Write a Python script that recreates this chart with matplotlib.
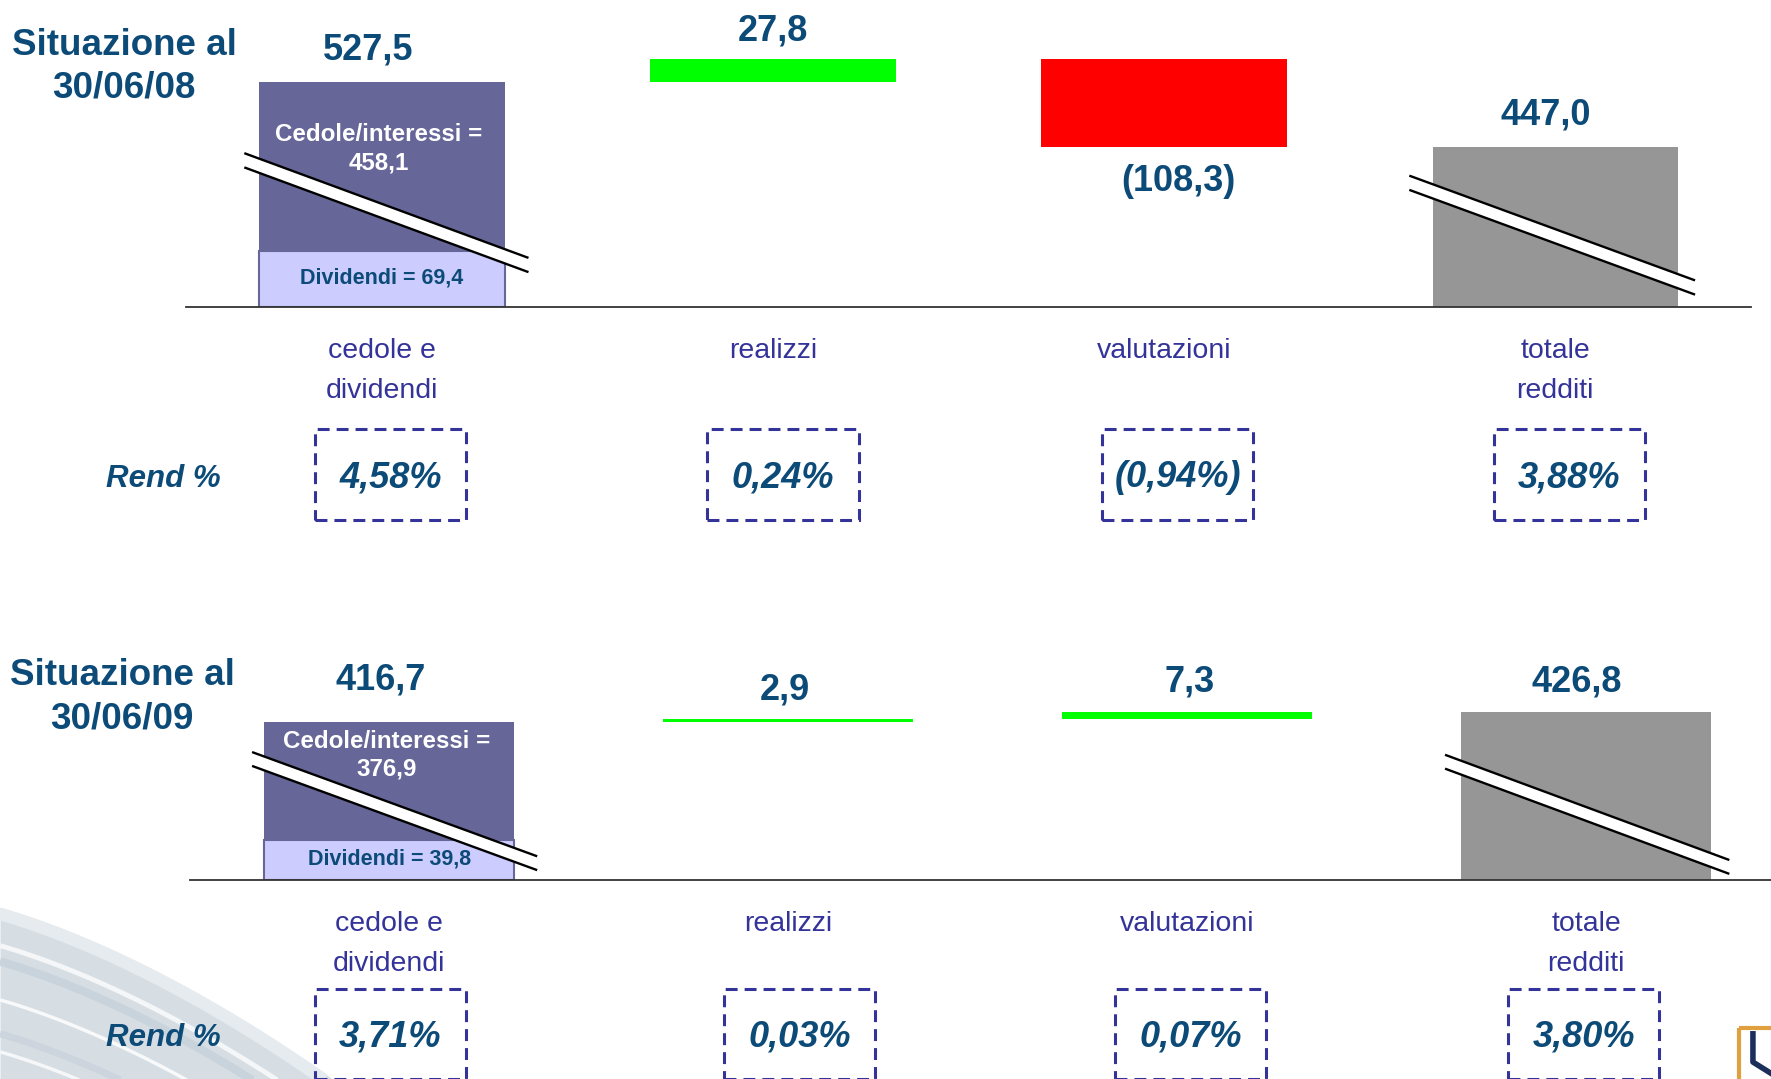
"""
Waterfall of portfolio income (cedole, realizzi, valutazioni, totale) for two
reporting dates, on a truncated y axis with break marks on the tall bars.
"""
import matplotlib.pyplot as plt
import numpy as np
from matplotlib import transforms
from matplotlib.patches import Polygon, Rectangle

# ---------------------------------------------------------------------------
# data
# ---------------------------------------------------------------------------
categories = ["cedole e\ndividendi", "realizzi", "valutazioni", "totale\nredditi"]
panel_titles = ["Situazione al\n30/06/08", "Situazione al\n30/06/09"]
cedole = [458.1, 376.9]
dividendi = [69.4, 39.8]
realizzi = [27.8, 2.9]
valutazioni = [-108.3, 7.3]
totale = [447.0, 426.8]
rend_top = [4.58, 0.24, -0.94, 3.88]
rend_bottom = [3.71, 0.03, 0.07, 3.80]
rend = [rend_top, rend_bottom]

# ---------------------------------------------------------------------------
# style / layout (reference grid is 1568 x 955)
# ---------------------------------------------------------------------------
W, H = 1568.0, 955.0
C_CEDOLE = "#666699"
C_DIVID = "#ccccff"
C_UP = "#00ff00"
C_DOWN = "#ff0000"
C_TOT = "#969696"
C_VAL = "#0c4a78"
C_CAT = "#333399"
FONT = "Liberation Sans"
BAR_W = 0.627

LAYOUT = [
    dict(left=165, right=1550, top=20, base=272, ylim=(250, 600),
         title=(110, 59), cat_y=299, box=(380, 460), box_dx=[0.022, 0.026, 0.035, 0.036],
         box_w=0.387, val_off=[16, 13.5, 12, 16], val_dx=[-10, 0, 10, -7], ced_off=30,
         breaks=[(0, -0.349, 0.372, 0.540, 0.175), (3, -0.370, 0.355, 0.461, 0.096)],
         gap=0.05),
    dict(left=168, right=1581, top=560, base=779, ylim=(260, 505),
         title=(108, 617), cat_y=806, box=(875, 955), box_dx=[0.003, 0.028, 0.009, -0.006],
         box_w=0.379, val_off=[23.5, 13.8, 14.7, 14.7], val_dx=[-6.5, -2.5, 1.5, -7],
         ced_off=5.5,
         breaks=[(0, -0.341, 0.368, 0.516, 0.098), (3, -0.351, 0.356, 0.505, 0.083)],
         gap=0.056),
]


def fx(x):
    return x / W


def fy(y):
    return 1 - y / H


def fmt(v, dec=1, pct=False):
    s = f"{abs(v):.{dec}f}".replace(".", ",") + ("%" if pct else "")
    return f"({s})" if v < 0 else s


fig = plt.figure(figsize=(17.71, 10.79), dpi=100)
fig.patch.set_facecolor("white")

# decorative swoosh, bottom-left corner
bg = fig.add_axes([0, 0, 1, 1], zorder=-5)
bg.set_xlim(0, W)
bg.set_ylim(H, 0)
bg.axis("off")
t = np.linspace(0, 1.08, 100)
edge_x = 280 * t
edge_y = 803 + 142 * (0.55 * t + 0.45 * t ** 1.8)
bg.fill_between(edge_x, edge_y, H + 5, color="#d6dee4", lw=0)
bg.plot(edge_x, edge_y + 6, color="#e6ebef", lw=9, solid_capstyle="butt")
for dy, lw, col in [(34, 3.5, "#f4f6f8"), (48, 6, "#c9d3db"), (82, 2.5, "#f7f9fa"),
                    (112, 5, "#ccd5dd"), (128, 2.5, "#f5f7f9")]:
    bg.plot(edge_x, edge_y + dy, color=col, lw=lw, solid_capstyle="butt")

# small logo stub bottom-right
bg.add_patch(Rectangle((1540, 910), 40, 50, fill=False, ec="#e0a040", lw=3))
bg.plot([1552, 1552, 1568], [915, 940, 950], color="#1a2f5a", lw=4)

for p, L in enumerate(LAYOUT):
    ax = fig.add_axes([fx(L["left"]), fy(L["base"]),
                       (L["right"] - L["left"]) / W, (L["base"] - L["top"]) / H])
    ax.set_xlim(-0.5, 3.5)
    ax.set_ylim(*L["ylim"])
    ax.patch.set_alpha(0)
    for s in ["top", "left", "right"]:
        ax.spines[s].set_visible(False)
    ax.spines["bottom"].set_color("#333333")
    ax.spines["bottom"].set_linewidth(1.3)
    ax.set_xticks([])
    ax.set_yticks([])

    floor = L["ylim"][0]
    start = cedole[p] + dividendi[p]
    after_r = start + realizzi[p]
    after_v = after_r + valutazioni[p]

    # cedole + dividendi stacked bar
    ax.bar(0, dividendi[p], BAR_W, bottom=floor, color=C_DIVID, edgecolor=C_CEDOLE,
           linewidth=1.5, zorder=2)
    ax.bar(0, start - floor - dividendi[p], BAR_W, bottom=floor + dividendi[p],
           color=C_CEDOLE, zorder=2)
    # floating deltas
    for i, (lo, delta) in enumerate([(start, realizzi[p]), (after_r, valutazioni[p])], 1):
        ax.bar(i, abs(delta), BAR_W, bottom=min(lo, lo + delta),
               color=C_UP if delta >= 0 else C_DOWN, zorder=2)
    # total
    ax.bar(3, totale[p] - floor, BAR_W, bottom=floor, color=C_TOT, zorder=2)

    # value labels
    tops = [start, after_r, min(after_r, after_v) if valutazioni[p] < 0 else after_v,
            totale[p]]
    vals = [start, realizzi[p], valutazioni[p], totale[p]]
    for i, (yv, v) in enumerate(zip(tops, vals)):
        neg = v < 0
        ax.annotate(fmt(v), (i, yv),
                    xytext=(L["val_dx"][i], -L["val_off"][i] if neg else L["val_off"][i]),
                    textcoords="offset points", ha="center",
                    va="top" if neg else "baseline", fontsize=26, fontweight="bold",
                    color=C_VAL, family=FONT, annotation_clip=False, zorder=6)

    # labels inside the first bar
    ax.annotate(f"Cedole/interessi =\n{fmt(cedole[p])}", (0, start),
                xytext=(-2, -L["ced_off"]), textcoords="offset points",
                ha="center", va="top", fontsize=17.4, fontweight="bold",
                color="white", family=FONT, linespacing=1.3, zorder=6)
    ax.text(0, floor + dividendi[p] / 2 + 1, f"Dividendi = {fmt(dividendi[p])}",
            ha="center", va="center", fontsize=15.5, fontweight="bold",
            color=C_VAL, family=FONT, zorder=6)

    # axis break marks
    tr = transforms.blended_transform_factory(ax.transData, ax.transAxes)
    g = L["gap"]
    for i, x0, x1, y0, y1 in L["breaks"]:
        ax.add_patch(Polygon([(i + x0, y0), (i + x1, y1), (i + x1, y1 - g), (i + x0, y0 - g)],
                             closed=True, fc="white", ec="none", transform=tr,
                             clip_on=False, zorder=4))
        for dy in (0, g):
            ax.plot([i + x0, i + x1], [y0 - dy, y1 - dy], color="black", lw=1.7,
                    transform=tr, clip_on=False, zorder=5)

    # panel title and "Rend %"
    fig.text(fx(L["title"][0]), fy(L["title"][1]), panel_titles[p], ha="center",
             va="center", fontsize=26.5, fontweight="bold", color=C_VAL, family=FONT,
             linespacing=1.3, multialignment="center")
    b0, b1 = L["box"]
    fig.text(fx(145), fy((b0 + b1) / 2 + 4), "Rend %", ha="center", va="center",
             fontsize=22.5, fontweight="bold", style="italic", color=C_VAL, family=FONT)

    # category labels and dashed return boxes
    trf = transforms.blended_transform_factory(ax.transData, fig.transFigure)
    for i, cat in enumerate(categories):
        ax.text(i, fy(L["cat_y"]), cat, transform=trf, ha="center", va="top",
                fontsize=20.5, color=C_CAT, family=FONT, linespacing=1.72,
                multialignment="center", clip_on=False)
        xc = i + L["box_dx"][i]
        ax.add_patch(Rectangle((xc - L["box_w"] / 2, fy(b1)), L["box_w"], (b1 - b0) / H,
                               fill=False, ec=C_CAT, lw=2.2, linestyle=(0, (3.9, 2.3)),
                               transform=trf, clip_on=False))
        ax.text(xc, fy((b0 + b1) / 2 + 3), fmt(rend[p][i], 2, pct=True), transform=trf,
                ha="center", va="center", fontsize=26, fontweight="bold",
                style="italic", color=C_VAL, family=FONT, clip_on=False)

fig.savefig("out.png", dpi=100)
